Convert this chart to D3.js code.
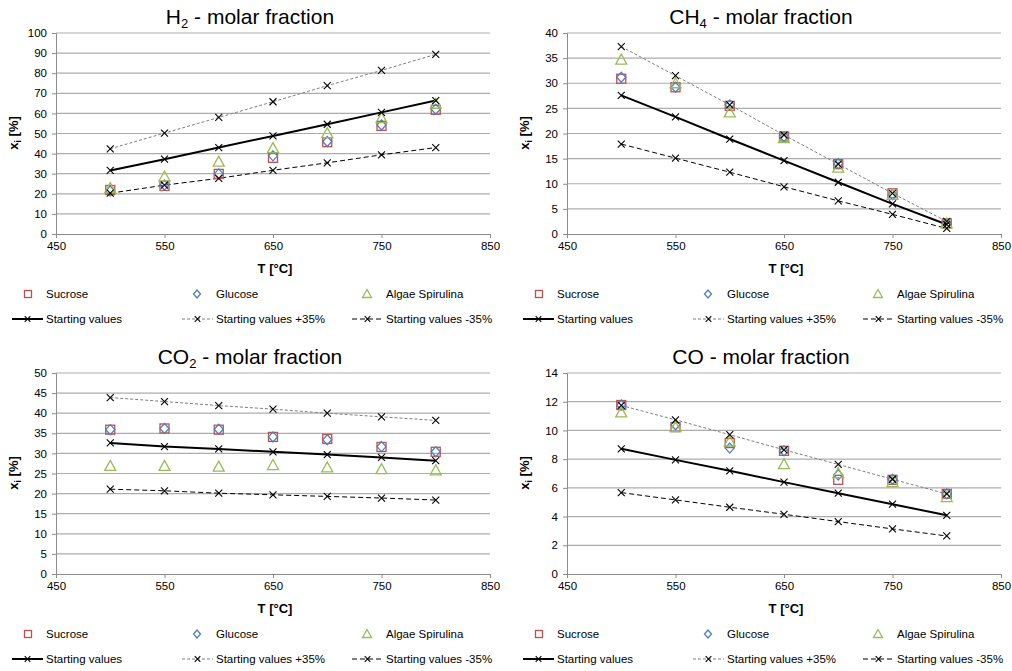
<!DOCTYPE html>
<html>
<head>
<meta charset="utf-8">
<script src="https://cdn.jsdelivr.net/npm/d3@7"></script>
<style>
  body { margin: 0; background: #fff; }
  svg { font-family: "Liberation Sans", Arial, sans-serif; }
  .tick text { font-size: 11.5px; fill: #000; }
</style>
</head>
<body>
<script>
// temperatures [°C]
const temps = [500, 550, 600, 650, 700, 750, 800];
const xTicks = [450, 550, 650, 750, 850];

// H2
const h2Sucrose = [21.9, 23.9, 29.9, 37.9, 45.7, 53.8, 61.8];
const h2Glucose = [21.4, 24.4, 29.9, 38.9, 46.0, 54.2, 62.1];
const h2Algae = [22.8, 28.6, 36.0, 42.7, 50.2, 57.6, 64.8];
const h2Start = [31.6, 37.2, 43.0, 48.8, 54.6, 60.5, 66.4];
const h2Plus = [42.4, 50.2, 58.0, 65.8, 73.8, 81.4, 89.4];
const h2Minus = [20.3, 24.3, 27.7, 31.7, 35.4, 39.4, 43.0];

// CH4
const ch4Sucrose = [30.9, 29.2, 25.5, 19.4, 13.9, 8.1, 2.1];
const ch4Glucose = [31.2, 29.2, 25.7, 19.4, 14.0, 7.8, 2.1];
const ch4Algae = [34.7, 30.0, 24.2, 19.1, 13.2, 7.8, 2.1];
const ch4Start = [27.6, 23.3, 18.9, 14.6, 10.3, 6.0, 1.9];
const ch4Plus = [37.3, 31.5, 25.7, 19.7, 13.9, 8.1, 2.5];
const ch4Minus = [17.9, 15.1, 12.3, 9.4, 6.6, 3.9, 1.1];

// CO2
const co2Sucrose = [35.9, 36.2, 35.9, 34.1, 33.6, 31.6, 30.4];
const co2Glucose = [35.9, 36.2, 36.0, 34.1, 33.4, 31.7, 30.4];
const co2Algae = [26.9, 26.9, 26.7, 27.1, 26.5, 26.1, 25.8];
const co2Start = [32.6, 31.7, 31.1, 30.4, 29.7, 29.0, 28.2];
const co2Plus = [43.9, 42.9, 41.9, 41.0, 40.0, 39.1, 38.2];
const co2Minus = [21.1, 20.7, 20.1, 19.7, 19.3, 18.9, 18.4];

// CO
const coSucrose = [11.77, 10.23, 9.12, 8.58, 6.56, 6.56, 5.58];
const coGlucose = [11.77, 10.4, 8.77, 8.58, 6.9, 6.6, 5.58];
const coAlgae = [11.26, 10.23, 9.23, 7.65, 7.02, 6.4, 5.35];
const coStart = [8.72, 7.95, 7.19, 6.40, 5.63, 4.86, 4.09];
const coPlus = [11.74, 10.74, 9.70, 8.65, 7.63, 6.60, 5.58];
const coMinus = [5.67, 5.16, 4.65, 4.16, 3.65, 3.14, 2.65];

const legendNames = ["Sucrose", "Glucose", "Algae Spirulina",
  "Starting values", "Starting values +35%", "Starting values -35%"];

const panels = [
  { title: ["H", "2", " - molar fraction"], yMax: 100, yStep: 10,
    ox: 0, oy: 0,
    s: [h2Sucrose, h2Glucose, h2Algae, h2Start, h2Plus, h2Minus] },
  { title: ["CH", "4", " - molar fraction"], yMax: 40, yStep: 5,
    ox: 511, oy: 0,
    s: [ch4Sucrose, ch4Glucose, ch4Algae, ch4Start, ch4Plus, ch4Minus] },
  { title: ["CO", "2", " - molar fraction"], yMax: 50, yStep: 5,
    ox: 0, oy: 340,
    s: [co2Sucrose, co2Glucose, co2Algae, co2Start, co2Plus, co2Minus] },
  { title: ["CO", "", " - molar fraction"], yMax: 14, yStep: 2,
    ox: 511, oy: 340,
    s: [coSucrose, coGlucose, coAlgae, coStart, coPlus, coMinus] }
];

const W = 1012, H = 671;
const margin = { left: 56, top: 33 };
const pw = 434, ph = 201;

const colors = { sucrose: "#c0504d", glucose: "#4f81bd", algae: "#9bbb59" };
const lineStyles = [
  { stroke: "#000", width: 2, dash: null },
  { stroke: "#7f7f7f", width: 1, dash: "3,2" },
  { stroke: "#000", width: 1, dash: "5,3" }
];

const svg = d3.select("body").append("svg")
  .attr("width", W).attr("height", H);

const x = d3.scaleLinear().domain([450, 850]).range([0, pw]);

// marker drawers, r = half size
function square(g, cx, cy, r = 4.5) {
  g.append("rect").attr("x", cx - r).attr("y", cy - r)
    .attr("width", 2 * r).attr("height", 2 * r)
    .attr("fill", "none").attr("stroke", colors.sucrose).attr("stroke-width", 1.3);
}
function diamond(g, cx, cy, r = 4.5) {
  const h = r + 0.5;
  g.append("path")
    .attr("d", `M${cx},${cy - h}L${cx + r},${cy}L${cx},${cy + h}L${cx - r},${cy}Z`)
    .attr("fill", "none").attr("stroke", colors.glucose).attr("stroke-width", 1.3);
}
function triangle(g, cx, cy, r = 4.5) {
  const a = r + 1;
  g.append("path")
    .attr("d", `M${cx},${cy - a}L${cx + a},${cy + r}L${cx - a},${cy + r}Z`)
    .attr("fill", "none").attr("stroke", colors.algae).attr("stroke-width", 1.3);
}
function cross(g, cx, cy, r = 3.5) {
  g.append("path")
    .attr("d", `M${cx - r},${cy - r}L${cx + r},${cy + r}M${cx - r},${cy + r}L${cx + r},${cy - r}`)
    .attr("stroke", "#000").attr("stroke-width", 1.1);
}
const markers = [square, diamond, triangle];

function drawPanel(p) {
  const g = svg.append("g")
    .attr("transform", `translate(${p.ox + margin.left},${p.oy + margin.top})`);
  const y = d3.scaleLinear().domain([0, p.yMax]).range([ph, 0]);
  const yTicks = d3.range(0, p.yMax + p.yStep / 2, p.yStep);

  // title
  const t = svg.append("text")
    .attr("x", p.ox + 250).attr("y", p.oy + 24)
    .attr("text-anchor", "middle").attr("font-size", 21);
  t.append("tspan").text(p.title[0]);
  if (p.title[1]) {
    t.append("tspan").attr("font-size", 13).attr("dy", 4).text(p.title[1]);
    t.append("tspan").attr("dy", -4).text(p.title[2]);
  } else {
    t.append("tspan").text(p.title[2]);
  }

  // grid
  g.append("g").selectAll("line").data(yTicks.slice(1)).join("line")
    .attr("x1", 0).attr("x2", pw)
    .attr("y1", d => y(d)).attr("y2", d => y(d))
    .attr("stroke", "#adadad").attr("stroke-width", 1.2);

  // axes
  const ya = g.append("g").call(d3.axisLeft(y).tickValues(yTicks).tickSize(4).tickPadding(5));
  const xa = g.append("g").attr("transform", `translate(0,${ph})`)
    .call(d3.axisBottom(x).tickValues(xTicks).tickSize(4).tickPadding(4));
  [ya, xa].forEach(a => {
    a.select(".domain").attr("stroke", "#8c8c8c");
    a.selectAll(".tick line").attr("stroke", "#8c8c8c");
    a.selectAll(".tick text").attr("font-family", null).attr("font-size", null);
  });

  // axis titles
  svg.append("text")
    .attr("x", p.ox + 275).attr("y", p.oy + 273)
    .attr("text-anchor", "middle").attr("font-size", 13).attr("font-weight", "bold")
    .text("T [°C]");
  const yl = svg.append("text")
    .attr("transform", `translate(${p.ox + 18},${p.oy + 133}) rotate(-90)`)
    .attr("text-anchor", "middle").attr("font-size", 13).attr("font-weight", "bold");
  yl.append("tspan").text("x");
  yl.append("tspan").attr("font-size", 9).attr("dy", 3).text("i");
  yl.append("tspan").attr("dy", -3).text(" [%]");

  // lines (start, +35, -35)
  const line = d3.line().x((d, i) => x(temps[i])).y(d => y(d));
  [3, 4, 5].forEach((k, j) => {
    const st = lineStyles[j];
    g.append("path").datum(p.s[k]).attr("d", line)
      .attr("fill", "none").attr("stroke", st.stroke)
      .attr("stroke-width", st.width).attr("stroke-dasharray", st.dash);
  });

  // experimental markers
  [0, 1, 2].forEach(k => {
    p.s[k].forEach((v, i) => markers[k](g, x(temps[i]), y(v)));
  });

  // crosses on lines
  [3, 4, 5].forEach(k => {
    p.s[k].forEach((v, i) => cross(g, x(temps[i]), y(v)));
  });

  // legend
  const lg = svg.append("g").attr("transform", `translate(${p.ox},${p.oy})`);
  const colX = [28, 197, 367];
  const textX = [46, 216, 386];
  const row1 = 294, row2 = 319;
  [0, 1, 2].forEach(k => {
    markers[k](lg, colX[k], row1, 3.5);
    lg.append("text").attr("x", textX[k]).attr("y", row1 + 4)
      .attr("font-size", 11.5).text(legendNames[k]);
  });
  [0, 1, 2].forEach(j => {
    const st = lineStyles[j];
    const x0 = textX[j] - 34, x1 = textX[j] - 3;
    lg.append("line").attr("x1", x0).attr("x2", x1)
      .attr("y1", row2).attr("y2", row2)
      .attr("stroke", st.stroke).attr("stroke-width", st.width)
      .attr("stroke-dasharray", st.dash);
    cross(lg, (x0 + x1) / 2, row2, 2.8);
    lg.append("text").attr("x", textX[j]).attr("y", row2 + 4)
      .attr("font-size", 11.5).text(legendNames[j + 3]);
  });
}

panels.forEach(drawPanel);
</script>
</body>
</html>
